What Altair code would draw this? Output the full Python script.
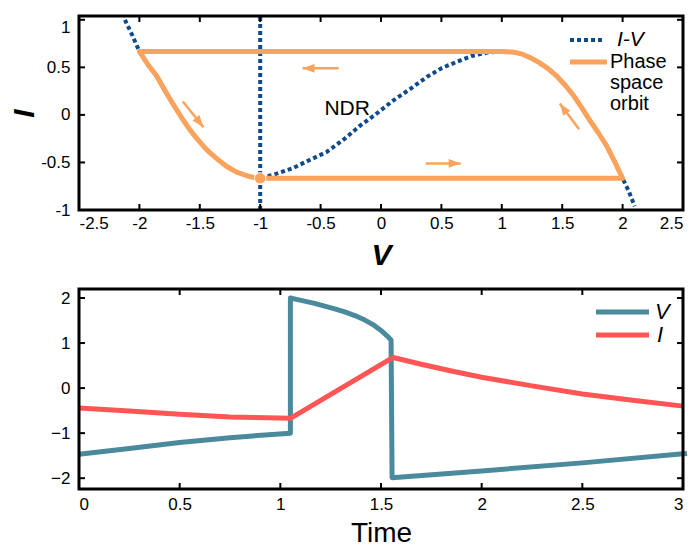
import altair as alt
import pandas as pd

# ---------------- top panel data ----------------
iv_v = [-2.12, -2.06, -2.0, -1.93, -1.857, -1.79, -1.72, -1.65, -1.58, -1.51, -1.44,
        -1.36, -1.28, -1.2, -1.11, -1.05, -1.0,
        -0.87, -0.73, -0.6, -0.45, -0.3, -0.17, -0.05, 0.1, 0.25, 0.38, 0.5, 0.63,
        0.75, 0.88, 1.0, 1.1, 1.175, 1.24, 1.31, 1.38, 1.45, 1.52, 1.59, 1.66, 1.73,
        1.8, 1.87, 1.93, 2.0, 2.05, 2.1]
iv_i = [1.0, 0.84, 0.667, 0.53, 0.41, 0.26, 0.11, -0.03, -0.16, -0.27, -0.37,
        -0.46, -0.54, -0.6, -0.64, -0.66, -0.667,
        -0.62, -0.56, -0.48, -0.39, -0.25, -0.11, 0.0, 0.15, 0.28, 0.40, 0.49, 0.56,
        0.62, 0.655, 0.667, 0.66, 0.636, 0.60, 0.55, 0.49, 0.414, 0.32, 0.21, 0.08, -0.06,
        -0.19, -0.33, -0.48, -0.667, -0.80, -0.96]

vline_v = [-1.0, -1.0]
vline_i = [-1.0, 1.04]

orbit_v = [1.0, -2.0, -1.93, -1.857, -1.79, -1.72, -1.65, -1.58, -1.51, -1.44,
           -1.36, -1.28, -1.2, -1.11, -1.05, -1.0,
           2.0, 1.93, 1.87, 1.8, 1.73, 1.66, 1.59, 1.52, 1.45, 1.38, 1.31, 1.24,
           1.175, 1.1, 1.0]
orbit_i = [0.667, 0.667, 0.53, 0.41, 0.26, 0.11, -0.03, -0.16, -0.27, -0.37,
           -0.46, -0.54, -0.6, -0.64, -0.66, -0.667,
           -0.667, -0.48, -0.33, -0.19, -0.06, 0.08, 0.21, 0.32, 0.414, 0.49, 0.55, 0.60,
           0.636, 0.66, 0.667]

arrow_v0 = [-0.35, -1.64, 0.37, 1.64]
arrow_i0 = [0.49, 0.14, -0.51, -0.15]
arrow_v1 = [-0.65, -1.47, 0.66, 1.48]
arrow_i1 = [0.49, -0.13, -0.51, 0.12]
arrow_angle = [270, 142, 90, 324]

dot_v = [-1.0]
dot_i = [-0.667]

top_xdomain = [-2.5, 2.5]
top_ydomain = [-1, 1.04]
top_xticks = [-2.5, -2, -1.5, -1, -0.5, 0, 0.5, 1, 1.5, 2, 2.5]
top_yticks = [-1, -0.5, 0, 0.5, 1]

# ---------------- bottom panel data ----------------
t_v = [0, 0.25, 0.5, 0.75, 1.05, 1.05, 1.08, 1.12, 1.17, 1.22, 1.27, 1.32, 1.37, 1.42,
       1.46, 1.5, 1.53, 1.55, 1.555, 2.0, 2.5, 3.0, 3.02]
v_vals = [-1.47, -1.34, -1.21, -1.1, -1.0, 2.0, 1.97, 1.93, 1.88, 1.82, 1.76, 1.69,
          1.61, 1.51, 1.41, 1.28, 1.16, 1.07, -1.99, -1.84, -1.66, -1.46, -1.45]
t_i = [0, 0.25, 0.5, 0.75, 1.05, 1.56, 1.7, 1.85, 2.0, 2.25, 2.5, 2.75, 3.0]
i_vals = [-0.44, -0.51, -0.58, -0.64, -0.67, 0.68, 0.53, 0.38, 0.24, 0.05, -0.13, -0.27, -0.40]

bot_xdomain = [0, 3]
bot_ydomain = [-2.24, 2.2]
bot_xticks = [0, 0.5, 1, 1.5, 2, 2.5, 3]
bot_yticks = [-2, -1, 0, 1, 2]

NAVY = "#0f4a8c"
ORANGE = "#fba35c"
TEAL = "#4a8a9c"
RED = "#ff5555"
FONT = "Liberation Sans"

W = 604
H_TOP, H_BOT = 194, 200
TICK = 6

dummy = pd.DataFrame({"a": [0]})


def frame_df(xd, yd):
    return pd.DataFrame({"x": [xd[0], xd[1], xd[1], xd[0], xd[0]],
                         "y": [yd[0], yd[0], yd[1], yd[1], yd[0]],
                         "o": range(5)})


# ---------------- top panel ----------------
xs_top = alt.Scale(domain=top_xdomain, nice=False, zero=False)
ys_top = alt.Scale(domain=top_ydomain, nice=False, zero=False)
xax_top = alt.Axis(values=top_xticks, labelExpr="datum.value + ''", title="V",
                   titleFontSize=30, titleFontStyle="italic", titleFontWeight="bold",
                   labelPadding=5, titlePadding=9)
yax_top = alt.Axis(values=top_yticks, labelExpr="datum.value + ''", title="I",
                   titleFontSize=30, titleFontStyle="italic", titleFontWeight="bold",
                   labelPadding=9, titlePadding=1,
                   labelBaseline={"condition": {"test": "datum.value == 1", "value": "top"},
                                  "value": "middle"})


def X(field="x"):
    return alt.X(f"{field}:Q", scale=xs_top, axis=xax_top)


def Y(field="y"):
    return alt.Y(f"{field}:Q", scale=ys_top, axis=yax_top)


iv_df = pd.DataFrame({"x": iv_v, "y": iv_i, "o": range(len(iv_v))})
vl_df = pd.DataFrame({"x": vline_v, "y": vline_i, "o": range(2)})
orb_df = pd.DataFrame({"x": orbit_v, "y": orbit_i, "o": range(len(orbit_v))})
arr_df = pd.DataFrame({"x": arrow_v0, "y": arrow_i0, "x2": arrow_v1, "y2": arrow_i1,
                       "ang": arrow_angle})
dot_df = pd.DataFrame({"x": dot_v, "y": dot_i})
txt_df = pd.DataFrame({"x": [-0.28], "y": [0.065], "t": ["NDR"]})
xt_df = pd.DataFrame({"x": top_xticks[1:-1]})
yt_df = pd.DataFrame({"y": top_yticks})

dotted = dict(color=NAVY, strokeWidth=4, strokeDash=[4, 3], strokeCap="butt")
frame_style = dict(color="black", strokeWidth=3, strokeJoin="miter", strokeCap="square")

iv_line = alt.Chart(iv_df).mark_line(**dotted).encode(x=X(), y=Y(), order="o:Q")
v_line = alt.Chart(vl_df).mark_line(**dotted).encode(x=X(), y=Y(), order="o:Q")
orbit = alt.Chart(orb_df).mark_line(color=ORANGE, strokeWidth=5, strokeJoin="round").encode(
    x=X(), y=Y(), order="o:Q")
arrows = alt.Chart(arr_df).mark_rule(color=ORANGE, strokeWidth=2.5).encode(
    x=X(), y=Y(), x2="x2:Q", y2="y2:Q")
heads = alt.Chart(arr_df).mark_point(
    shape="M0,0L0.8,2.2L-0.8,2.2Z", filled=True, color=ORANGE, opacity=1, size=120
).encode(x=alt.X("x2:Q", scale=xs_top, axis=xax_top), y=alt.Y("y2:Q", scale=ys_top, axis=yax_top),
         angle=alt.Angle("ang:Q", scale=None))
dot = alt.Chart(dot_df).mark_circle(color=ORANGE, size=130, opacity=1, stroke="white",
                                    strokeWidth=1).encode(x=X(), y=Y())
ndr = alt.Chart(txt_df).mark_text(font=FONT, fontSize=21, color="black").encode(
    x=X(), y=Y(), text="t:N")
frame_top = alt.Chart(frame_df(top_xdomain, top_ydomain)).mark_line(**frame_style).encode(
    x=X(), y=Y(), order="o:Q")

tick_style = dict(color="black", strokeWidth=2)
xt_top1 = alt.Chart(xt_df).mark_rule(**tick_style).encode(x=X(), y=alt.value(0), y2=alt.value(TICK))
xt_top2 = alt.Chart(xt_df).mark_rule(**tick_style).encode(x=X(), y=alt.value(H_TOP), y2=alt.value(H_TOP - TICK))
yt_top1 = alt.Chart(yt_df).mark_rule(**tick_style).encode(y=Y(), x=alt.value(0), x2=alt.value(TICK))
yt_top2 = alt.Chart(yt_df).mark_rule(**tick_style).encode(y=Y(), x=alt.value(W), x2=alt.value(W - TICK))

leg1_line = alt.Chart(dummy).mark_rule(**dotted).encode(
    x=alt.value(491), x2=alt.value(525), y=alt.value(24))
leg1_txt = alt.Chart(dummy).mark_text(text="I-V", font=FONT, fontSize=21, fontStyle="italic",
                                      align="left", baseline="middle", color="black").encode(
    x=alt.value(538), y=alt.value(24))
leg2_line = alt.Chart(dummy).mark_rule(color=ORANGE, strokeWidth=5).encode(
    x=alt.value(491), x2=alt.value(528), y=alt.value(46))
leg2_a = alt.Chart(dummy).mark_text(text="Phase", font=FONT, fontSize=20, align="left",
                                    baseline="middle", color="black").encode(
    x=alt.value(531), y=alt.value(46))
leg2_b = alt.Chart(dummy).mark_text(text="space", font=FONT, fontSize=20, align="left",
                                    baseline="middle", color="black").encode(
    x=alt.value(531), y=alt.value(67))
leg2_c = alt.Chart(dummy).mark_text(text="orbit", font=FONT, fontSize=20, align="left",
                                    baseline="middle", color="black").encode(
    x=alt.value(531), y=alt.value(88))

top = alt.layer(iv_line, v_line, orbit, arrows, heads, dot, ndr, frame_top,
                xt_top1, xt_top2, yt_top1, yt_top2,
                leg1_line, leg1_txt, leg2_line, leg2_a, leg2_b, leg2_c
                ).properties(width=W, height=H_TOP)

# ---------------- bottom panel ----------------
xs_bot = alt.Scale(domain=bot_xdomain, nice=False, zero=False)
ys_bot = alt.Scale(domain=bot_ydomain, nice=False, zero=False)
xax_bot = alt.Axis(values=bot_xticks, labelExpr="datum.value + ''", title="Time",
                   titleFontSize=28, titleFontWeight="normal", labelPadding=7, titlePadding=7)
yax_bot = alt.Axis(values=bot_yticks,
                   labelExpr="datum.value < 0 ? '\u2212' + abs(datum.value) : datum.value + ''",
                   title=None, labelPadding=9)


def BX(field="x"):
    return alt.X(f"{field}:Q", scale=xs_bot, axis=xax_bot)


def BY(field="y"):
    return alt.Y(f"{field}:Q", scale=ys_bot, axis=yax_bot)


v_df = pd.DataFrame({"x": t_v, "y": v_vals, "o": range(len(t_v))})
i_df = pd.DataFrame({"x": t_i, "y": i_vals, "o": range(len(t_i))})
bxt_df = pd.DataFrame({"x": bot_xticks[1:-1]})
byt_df = pd.DataFrame({"y": bot_yticks})

v_line_b = alt.Chart(v_df).mark_line(color=TEAL, strokeWidth=5, strokeJoin="round").encode(
    x=BX(), y=BY(), order="o:Q")
i_line_b = alt.Chart(i_df).mark_line(color=RED, strokeWidth=5, strokeJoin="round").encode(
    x=BX(), y=BY(), order="o:Q")
frame_bot = alt.Chart(frame_df(bot_xdomain, bot_ydomain)).mark_line(**frame_style).encode(
    x=BX(), y=BY(), order="o:Q")

bxt1 = alt.Chart(bxt_df).mark_rule(**tick_style).encode(x=BX(), y=alt.value(0), y2=alt.value(TICK))
bxt2 = alt.Chart(bxt_df).mark_rule(**tick_style).encode(x=BX(), y=alt.value(H_BOT), y2=alt.value(H_BOT - TICK))
byt1 = alt.Chart(byt_df).mark_rule(**tick_style).encode(y=BY(), x=alt.value(0), x2=alt.value(TICK))
byt2 = alt.Chart(byt_df).mark_rule(**tick_style).encode(y=BY(), x=alt.value(W), x2=alt.value(W - TICK))

bl1 = alt.Chart(dummy).mark_rule(color=TEAL, strokeWidth=5).encode(
    x=alt.value(517), x2=alt.value(570), y=alt.value(23))
bl1t = alt.Chart(dummy).mark_text(text="V", font=FONT, fontSize=22, fontStyle="italic",
                                  align="left", baseline="middle", color="black").encode(
    x=alt.value(576), y=alt.value(23))
bl2 = alt.Chart(dummy).mark_rule(color=RED, strokeWidth=5).encode(
    x=alt.value(517), x2=alt.value(570), y=alt.value(46))
bl2t = alt.Chart(dummy).mark_text(text="I", font=FONT, fontSize=22, fontStyle="italic",
                                  align="left", baseline="middle", color="black").encode(
    x=alt.value(578), y=alt.value(46))

bottom = alt.layer(v_line_b, i_line_b, frame_bot, bxt1, bxt2, byt1, byt2,
                   bl1, bl1t, bl2, bl2t).properties(width=W, height=H_BOT)

chart = alt.vconcat(top, bottom, spacing=13).properties(
    padding={"left": 1, "top": 0, "right": 0, "bottom": 0}
).configure_view(
    strokeWidth=0
).configure_axis(
    domain=False, ticks=False, tickSize=0, grid=False,
    labelFont=FONT, labelFontSize=17, labelColor="black",
    titleFont=FONT, titleColor="black"
)

chart.save("out.html", embed_options={"renderer": "svg", "actions": False})
